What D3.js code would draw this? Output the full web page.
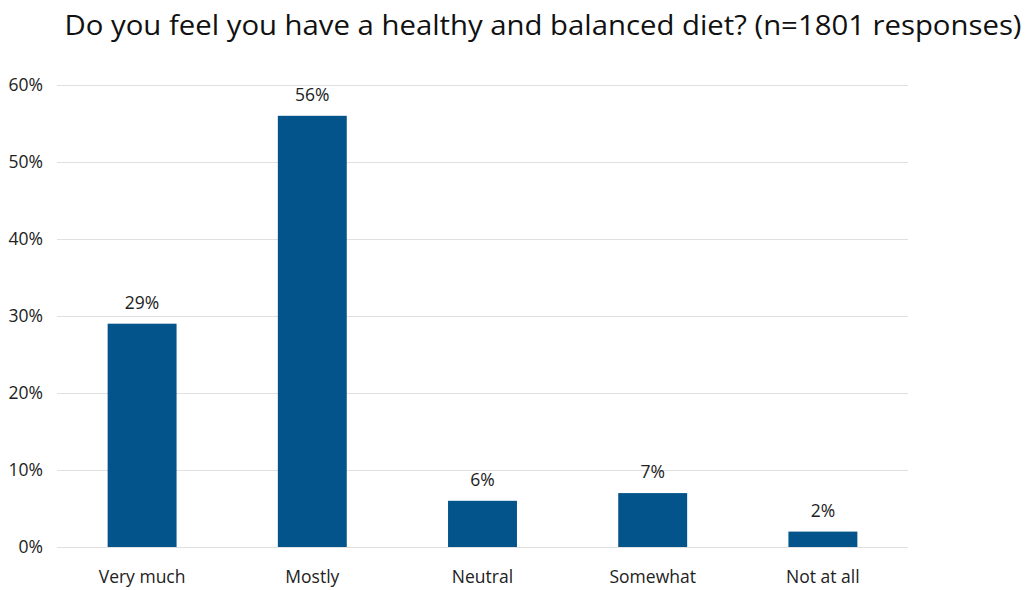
<!DOCTYPE html>
<html>
<head>
<meta charset="utf-8">
<script src="https://cdn.jsdelivr.net/npm/d3@7"></script>
<style>
  html, body { margin: 0; padding: 0; background: #fff; }
  svg { display: block; font-family: "Open Sans", "Noto Sans", sans-serif; }
</style>
</head>
<body>
<svg id="chart" width="1027" height="590"></svg>
<script>
// Survey answers and their share of responses (percent)
const categories = ["Very much", "Mostly", "Neutral", "Somewhat", "Not at all"];
const values = [29, 56, 6, 7, 2];
const yTicks = [0, 10, 20, 30, 40, 50, 60];
const title = "Do you feel you have a healthy and balanced diet? (n=1801 responses)";

const svg = d3.select("#chart");
const margin = { left: 57, right: 119, top: 85, bottom: 43 };
const W = 1027, H = 590;
const FS = 17.5;

const x = d3.scaleBand()
  .domain(categories)
  .range([margin.left, W - margin.right])
  .paddingInner(0.595)
  .paddingOuter(0.2975);

const y = d3.scaleLinear()
  .domain([0, 60])
  .range([H - margin.bottom, margin.top]);

// Title
svg.append("text")
  .attr("x", 543)
  .attr("y", 35)
  .attr("text-anchor", "middle")
  .attr("font-size", 28)
  .attr("textLength", 957)
  .attr("lengthAdjust", "spacingAndGlyphs")
  .attr("fill", "#111")
  .text(title);

// Horizontal gridlines + y labels
const yAxis = d3.axisLeft(y)
  .tickValues(yTicks)
  .tickSize(-(W - margin.right - margin.left))
  .tickPadding(14)
  .tickFormat(d => d + "%");

const gy = svg.append("g")
  .attr("transform", `translate(${margin.left},0)`)
  .call(yAxis);
gy.select(".domain").remove();
gy.selectAll(".tick line").attr("stroke", "#e0e0e0").attr("stroke-width", 1.2);
gy.selectAll(".tick text")
  .attr("font-size", FS)
  .attr("fill", "#222")
  .attr("font-family", "'Open Sans', 'Noto Sans', sans-serif");

// Bars
svg.append("g").selectAll("rect")
  .data(values)
  .join("rect")
  .attr("x", (d, i) => x(categories[i]))
  .attr("y", d => y(d))
  .attr("width", x.bandwidth())
  .attr("height", d => y(0) - y(d))
  .attr("fill", "#02548a");

// Value labels
svg.append("g").selectAll("text")
  .data(values)
  .join("text")
  .attr("x", (d, i) => x(categories[i]) + x.bandwidth() / 2)
  .attr("y", d => y(d) - 15)
  .attr("text-anchor", "middle")
  .attr("font-size", FS)
  .attr("fill", "#222")
  .text(d => d + "%");

// Category axis
const gx = svg.append("g")
  .attr("transform", `translate(0,${y(0)})`)
  .call(d3.axisBottom(x).tickSize(0).tickPadding(24));
gx.select(".domain").remove();
gx.selectAll(".tick text")
  .attr("font-size", FS)
  .attr("fill", "#222")
  .attr("font-family", "'Open Sans', 'Noto Sans', sans-serif");
</script>
</body>
</html>
